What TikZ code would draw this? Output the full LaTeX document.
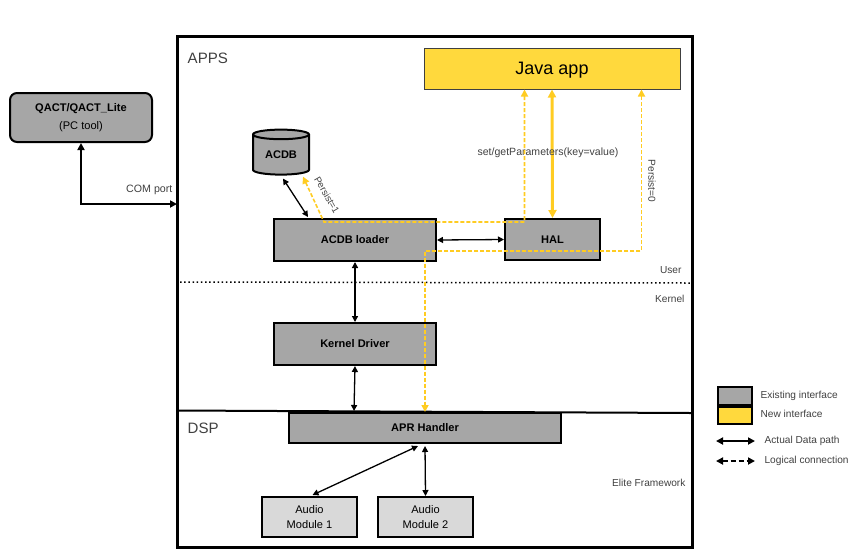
\documentclass[tikz,border=0pt]{standalone}
\usepackage{fontspec}
\setmainfont{Liberation Sans}
\usetikzlibrary{arrows.meta,shapes.geometric,calc}
\definecolor{boxgray}{HTML}{A6A6A6}
\definecolor{lightbox}{HTML}{D9D9D9}
\definecolor{newyel}{HTML}{FFD93D}
\definecolor{dashyel}{HTML}{FFCC22}
\definecolor{txtgray}{HTML}{404040}
\def\pxu{0.75pt}
\begin{document}
\begin{tikzpicture}[x=0.75pt,y=-0.75pt,
  box/.style={draw=black, line width=2*\pxu, fill=boxgray, inner sep=0pt,
    font=\bfseries\fontsize{8.3}{10}\selectfont},
  modbox/.style={draw=black, line width=2*\pxu, fill=lightbox, inner sep=0pt, align=center,
    font=\fontsize{8.3}{11.5}\selectfont},
  newbox/.style={draw=txtgray, line width=1*\pxu, fill=newyel, inner sep=0pt,
    font=\fontsize{13.5}{16}\selectfont},
  lbl/.style={font=\fontsize{7.6}{9}\selectfont, text=txtgray, inner sep=1pt},
  data/.style={line width=1.3*\pxu, {Triangle[length=6*\pxu,width=6*\pxu]}-{Triangle[length=6*\pxu,width=6*\pxu]}},
  logic/.style={draw=dashyel, line width=1.6*\pxu, dash pattern=on 4*\pxu off 2*\pxu,
    {Triangle[length=7*\pxu,width=7*\pxu]}-{Triangle[length=7*\pxu,width=7*\pxu]}},
]
\useasboundingbox (0,0) rectangle (862,558);

% frame and separators
\draw[line width=3*\pxu] (177,36) rectangle (692,547);
\draw[line width=1.5*\pxu, dotted] (180,282) -- (690,283);
\draw[line width=2*\pxu] (177,410.5) -- (692,413);
\node[anchor=west, font=\fontsize{11.3}{13}\selectfont, text=txtgray] (appslbl) at (183,58) {APPS};
\node[anchor=west, font=\fontsize{11.3}{13}\selectfont, text=txtgray] (dsplbl) at (183,428) {DSP};
\node[lbl, anchor=east] (userlbl) at (683,270) {User};
\node[lbl, anchor=east] (kernlbl) at (686,299) {Kernel};
\node[lbl, anchor=east] (elitelbl) at (687,483) {Elite Framework};

% nodes
\node[newbox, minimum width=256*\pxu, minimum height=41*\pxu, text depth=0pt] (java) at (552,68.5) {Java app};
\node[cylinder, shape border rotate=90, aspect=0.3, draw=black, line width=2*\pxu, fill=boxgray,
  minimum width=56*\pxu, minimum height=45*\pxu, inner sep=0pt,
  font=\bfseries\fontsize{8.3}{10}\selectfont] (acdb) at (281,155) {ACDB};
\node[box, minimum width=162*\pxu, minimum height=42*\pxu] (loader) at (355,240) {ACDB loader};
\node[box, minimum width=95*\pxu, minimum height=41*\pxu] (hal) at (552.5,239.5) {HAL};
\node[box, minimum width=162*\pxu, minimum height=42*\pxu] (kernel) at (355,344) {Kernel Driver};
\node[box, minimum width=272*\pxu, minimum height=30*\pxu] (apr) at (425,428) {APR Handler};
\node[modbox, minimum width=95*\pxu, minimum height=40*\pxu] (am1) at (309.5,517) {Audio\\Module 1};
\node[modbox, minimum width=95*\pxu, minimum height=40*\pxu] (am2) at (425.5,517) {Audio\\Module 2};
\node[box, rounded corners=7*\pxu, minimum width=142*\pxu, minimum height=49*\pxu, align=center,
  font=\fontsize{8.3}{13}\selectfont] (qact) at (81,117.5) {\textbf{QACT/QACT\_Lite}\\(PC tool)};

% COM port
\coordinate (comend) at (177,204);
\draw[line width=2.6*\pxu, {Triangle[length=7*\pxu,width=7*\pxu]}-{Triangle[length=7*\pxu,width=7*\pxu]}]
  (qact.south) |- (comend);
\node[font=\fontsize{8}{10}\selectfont, text=txtgray, anchor=south east, inner sep=1pt] (comlbl) at (174,196) {COM port};

% data paths
\draw[data] ($(acdb.south)+(2,3)$) -- ($(loader.north west)+(35,-1)$);
\draw[data] (loader.east) -- (hal.west);
\draw[data] (loader.south) -- (kernel.north);
\draw[data] (kernel.south) -- ($(apr.north west)+(66,-1)$);
\draw[data] ($(apr.south)+(-7,2)$) -- ($(am1.north)+(3,-1)$);
\draw[data] ($(apr.south)+(0,2)$) -- (am2.north);

% yellow
\draw[line width=3*\pxu, draw=dashyel, {Triangle[length=8*\pxu,width=8*\pxu]}-{Triangle[length=8*\pxu,width=8*\pxu]}]
  (java.south) -- (hal.north);
\node[font=\fontsize{7.9}{10}\selectfont, text=txtgray] (setlbl) at (548,153) {set/getParameters(key=value)};
\draw[logic] ($(java.south west)+(101,0)$) |- ($(loader.north west)+(51,4)$) -- ($(acdb.south)+(22,1)$);
\node[lbl, rotate=-60, font=\fontsize{7.2}{9}\selectfont] (p1lbl) at (327,195) {Persist=1};
\draw[logic] ($(java.south west)+(218,0)$) |- ($(loader.east)+(70,11)$) -| (apr.north);
\node[lbl, rotate=-90] (p0lbl) at (652,181) {Persist=0};

% legend
\node[box, minimum width=34*\pxu, minimum height=18*\pxu] (leg1) at (735,396) {};
\node[draw=black, line width=2*\pxu, fill=newyel, minimum width=34*\pxu, minimum height=17*\pxu, inner sep=0pt] (leg2) at (735,415.5) {};
\node[lbl, anchor=west] (leg1t) at (759,396) {Existing interface};
\node[lbl, anchor=west] (leg2t) at (759,414) {New interface};
\coordinate (la1) at (716,441);
\coordinate (la2) at (755,441);
\coordinate (lb1) at (716,461);
\coordinate (lb2) at (755,461);
\draw[line width=2.2*\pxu, {Triangle[length=7*\pxu,width=7*\pxu]}-{Triangle[length=7*\pxu,width=7*\pxu]}] (la1) -- (la2);
\draw[line width=2.2*\pxu, dash pattern=on 5*\pxu off 3*\pxu, {Triangle[length=7*\pxu,width=7*\pxu]}-{Triangle[length=7*\pxu,width=7*\pxu]}] (lb1) -- (lb2);
\node[lbl, anchor=west] (leg3t) at (763,441) {Actual Data path};
\node[lbl, anchor=west] (leg4t) at (763,461) {Logical connection};
\end{tikzpicture}
\end{document}
